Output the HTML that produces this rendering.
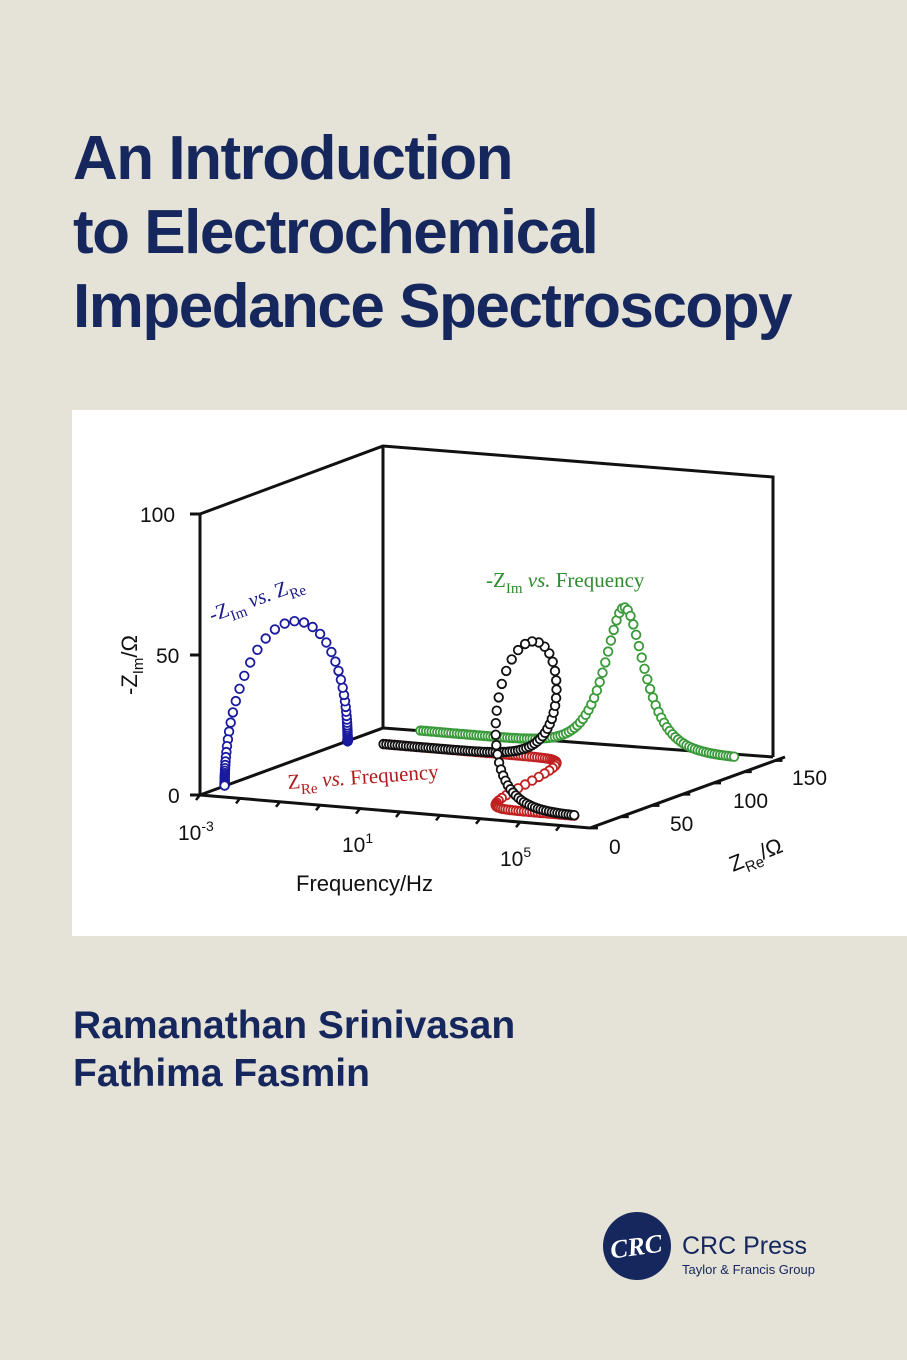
<!DOCTYPE html>
<html><head><meta charset="utf-8"><style>
html,body{margin:0;padding:0}
body{width:907px;height:1360px;background:#e5e2d8;position:relative;overflow:hidden;font-family:"Liberation Sans",sans-serif}
.t{position:absolute;left:73px;color:#15275c;font-weight:bold;font-size:62px;letter-spacing:-1.5px;white-space:nowrap}
.a{position:absolute;left:73px;color:#15275c;font-weight:bold;font-size:39px;white-space:nowrap}
#panel{position:absolute;left:72px;top:410px;width:835px;height:526px;background:#fff}
</style></head><body>
<div class="t" style="top:123px">An Introduction</div>
<div class="t" style="top:197px">to Electrochemical</div>
<div class="t" style="top:271px">Impedance Spectroscopy</div>
<div id="panel"></div>
<svg id="ch" width="907" height="1360" style="position:absolute;left:0;top:0">
<g stroke="#111" stroke-width="3" fill="none">
<polyline points="200,514 383,446 773,477 773,757"/>
<polyline points="383,446 383,728 773,757"/>
<line x1="383" y1="728" x2="200" y2="795"/>
<line x1="200" y1="514" x2="200" y2="795"/>
<line x1="200" y1="795" x2="590" y2="828"/>
<line x1="590" y1="828" x2="785" y2="757"/>
<line x1="190" y1="514" x2="200" y2="514"/><line x1="190" y1="655" x2="200" y2="655"/><line x1="190" y1="795" x2="200" y2="795"/>
</g>
<g id="tk" stroke="#111" stroke-width="2.5"></g>
<g font-family="Liberation Sans, sans-serif" font-size="21" fill="#111">
<text x="140" y="522">100</text><text x="156" y="663">50</text><text x="168" y="803">0</text>
<text x="178" y="840">10<tspan dy="-9" font-size="14">-3</tspan></text>
<text x="342" y="852">10<tspan dy="-9" font-size="14">1</tspan></text>
<text x="500" y="866">10<tspan dy="-9" font-size="14">5</tspan></text>
<text x="609" y="854">0</text><text x="670" y="831">50</text><text x="733" y="808">100</text><text x="792" y="785">150</text>
<text x="296" y="891" font-size="22">Frequency/Hz</text>
<text transform="translate(137,695) rotate(-90)" font-size="22">-Z<tspan dy="6" font-size="15">Im</tspan><tspan dy="-6">/Ω</tspan></text>
<text transform="translate(733,872) rotate(-22)" font-size="22">Z<tspan dy="6" font-size="15">Re</tspan><tspan dy="-6">/Ω</tspan></text>
</g>
<g font-family="Liberation Serif, serif" font-size="21">
<text transform="translate(212,622) rotate(-20)" fill="#1a1a8a">-Z<tspan dy="6" font-size="15">Im</tspan><tspan dy="-6" font-style="italic"> vs.</tspan> Z<tspan dy="6" font-size="15">Re</tspan></text>
<text x="486" y="587" fill="#2e8b2e">-Z<tspan dy="6" font-size="15">Im</tspan><tspan dy="-6" font-style="italic"> vs.</tspan> Frequency</text>
<text transform="translate(288,789) rotate(-4)" fill="#b01c1c">Z<tspan dy="6" font-size="15">Re</tspan><tspan dy="-6" font-style="italic"> vs.</tspan> Frequency</text>
</g>
<g id="pts" fill="#fff" stroke-width="1.8"></g>
<g transform="translate(637,1246)">
<circle r="34" fill="#15275c"/>
<text x="-27" y="9" font-family="Liberation Serif,serif" font-style="italic" font-weight="bold" font-size="26" fill="#fff" transform="rotate(-8)">CRC</text>
</g>
<text x="682" y="1254" font-family="Liberation Sans,sans-serif" font-size="25" fill="#15275c">CRC Press</text>
<text x="682" y="1274" font-family="Liberation Sans,sans-serif" font-size="13" fill="#15275c">Taylor &amp; Francis Group</text>
</svg>
<div class="a" style="top:1004px">Ramanathan Srinivasan</div>
<div class="a" style="top:1052px">Fathima Fasmin</div>
<script>
var ns="http://www.w3.org/2000/svg";
function P(u,v,w){return [200+(u+3)*40+v*1.23, 795+(u+3)*3.4-v*0.45-w*2.81];}
var g=document.getElementById('pts');
function c(p,col){var e=document.createElementNS(ns,'circle');e.setAttribute('cx',p[0].toFixed(1));e.setAttribute('cy',p[1].toFixed(1));e.setAttribute('r',4.3);e.setAttribute('stroke',col);g.appendChild(e);}
var U=[];for(var u=-2.1;u<=5.8;u+=0.07)U.push(u);
function Z(u){var x=Math.pow(10,u-3);return [20+100/(1+x*x),100*x/(1+x*x)];}
U.forEach(function(u){var z=Z(u);c(P(-3,z[0],z[1]),'#1a1aa0');});
U.forEach(function(u){var z=Z(u);c(P(u,150,z[1]),'#3a9a3a');});
U.forEach(function(u){var z=Z(u);c(P(u,z[0],0),'#c02020');});
U.forEach(function(u){var z=Z(u);c(P(u,z[0],z[1]),'#111');});
var tk=document.getElementById('tk');
for(var i=0;i<=9;i++){var p=P(-3+i,0,0);var l=document.createElementNS(ns,'line');l.setAttribute('x1',p[0]);l.setAttribute('y1',p[1]);l.setAttribute('x2',p[0]-4);l.setAttribute('y2',p[1]+5);tk.appendChild(l);}
for(var v=0;v<=150;v+=25){var p=P(6.75,v,0);var l=document.createElementNS(ns,'line');l.setAttribute('x1',p[0]);l.setAttribute('y1',p[1]);l.setAttribute('x2',p[0]+8);l.setAttribute('y2',p[1]);tk.appendChild(l);}
</script>
</body></html>
